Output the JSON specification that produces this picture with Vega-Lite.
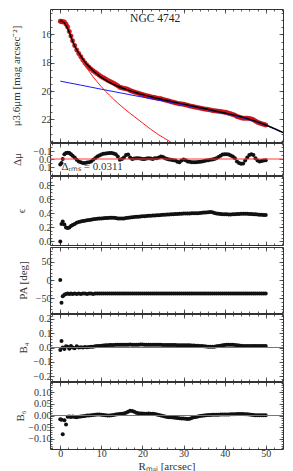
{
"$schema": "https://vega.github.io/schema/vega-lite/v6.json",
"padding": {"left": 9, "top": 8, "right": 0, "bottom": 0},
"spacing": -2,
"config": {
  "font": "Liberation Serif",
  "view": {"stroke": "#333", "strokeWidth": 1},
  "concat": {"spacing": -2},
  "axis": {"domain": false, "grid": false, "labelFont": "Liberation Serif", "titleFont": "Liberation Serif", "labelFontSize": 10, "titleFontSize": 11, "titleFontWeight": "normal", "labelColor": "#333", "titleColor": "#333", "tickColor": "#333", "tickWidth": 0.8, "labelOverlap": false, "labelFlush": false, "labelPadding": 3}
},
"datasets": {
"prof": [
{"R":0,"mu":15.06,"dmu":0.07,"eps":0,"pa":0,"b4":-0.018,"b6":-0.016},
{"R":0.3,"mu":15.09,"dmu":0.05,"eps":0.25,"pa":-62,"b4":0.045,"b6":-0.018},
{"R":0.6,"mu":15.1,"dmu":0,"eps":0.285,"pa":-44,"b4":0,"b6":-0.08},
{"R":1.0,"mu":15.12,"dmu":-0.06,"eps":0.24,"pa":-40,"b4":-0.01,"b6":-0.02},
{"R":1.4,"mu":15.27,"dmu":-0.075,"eps":0.2,"pa":-38,"b4":0.008,"b6":-0.038},
{"R":1.8,"mu":15.47,"dmu":-0.078,"eps":0.19,"pa":-37,"b4":0.005,"b6":-0.005},
{"R":2.2,"mu":15.79,"dmu":-0.075,"eps":0.2,"pa":-38,"b4":-0.008,"b6":-0.004},
{"R":2.6,"mu":16.11,"dmu":-0.06,"eps":0.22,"pa":-37,"b4":0.01,"b6":-0.006},
{"R":3.0,"mu":16.44,"dmu":-0.04,"eps":0.235,"pa":-38,"b4":0,"b6":-0.004},
{"R":3.5,"mu":16.78,"dmu":-0.02,"eps":0.25,"pa":-37,"b4":-0.005,"b6":-0.006},
{"R":4.0,"mu":17.09,"dmu":0.01,"eps":0.265,"pa":-38,"b4":0.008,"b6":-0.007},
{"R":4.5,"mu":17.35,"dmu":0.03,"eps":0.275,"pa":-37,"b4":0,"b6":-0.005},
{"R":5.0,"mu":17.57,"dmu":0.04,"eps":0.285,"pa":-38,"b4":0.002,"b6":-0.004},
{"R":5.5,"mu":17.8,"dmu":0.05,"eps":0.29,"pa":-37,"b4":0,"b6":-0.003},
{"R":6.0,"mu":18.0,"dmu":0.05,"eps":0.295,"pa":-37,"b4":0.003,"b6":-0.002},
{"R":6.5,"mu":18.17,"dmu":0.045,"eps":0.3,"pa":-38,"b4":0.002,"b6":0},
{"R":7.0,"mu":18.31,"dmu":0.04,"eps":0.305,"pa":-37,"b4":0.004,"b6":0},
{"R":7.5,"mu":18.45,"dmu":0.03,"eps":0.31,"pa":-37,"b4":0.005,"b6":0.001},
{"R":8.0,"mu":18.57,"dmu":0.01,"eps":0.315,"pa":-38,"b4":0.006,"b6":0.002},
{"R":8.5,"mu":18.67,"dmu":-0.01,"eps":0.32,"pa":-37,"b4":0.008,"b6":0.003},
{"R":9.0,"mu":18.77,"dmu":-0.03,"eps":0.322,"pa":-37,"b4":0.01,"b6":0.004},
{"R":9.5,"mu":18.88,"dmu":-0.045,"eps":0.325,"pa":-37,"b4":0.01,"b6":0.004},
{"R":10,"mu":18.98,"dmu":-0.055,"eps":0.328,"pa":-37,"b4":0.012,"b6":0.003},
{"R":10.5,"mu":19.06,"dmu":-0.065,"eps":0.33,"pa":-37,"b4":0.014,"b6":0.002},
{"R":11,"mu":19.14,"dmu":-0.07,"eps":0.333,"pa":-37,"b4":0.015,"b6":0.001},
{"R":11.5,"mu":19.23,"dmu":-0.072,"eps":0.335,"pa":-37,"b4":0.016,"b6":0},
{"R":12,"mu":19.31,"dmu":-0.075,"eps":0.337,"pa":-37,"b4":0.017,"b6":0},
{"R":12.5,"mu":19.38,"dmu":-0.075,"eps":0.338,"pa":-37,"b4":0.018,"b6":0.001},
{"R":13,"mu":19.45,"dmu":-0.07,"eps":0.336,"pa":-37,"b4":0.018,"b6":0.002},
{"R":13.5,"mu":19.53,"dmu":-0.06,"eps":0.332,"pa":-37,"b4":0.019,"b6":0.004},
{"R":14,"mu":19.63,"dmu":-0.03,"eps":0.328,"pa":-37,"b4":0.019,"b6":0.005},
{"R":14.5,"mu":19.73,"dmu":0.01,"eps":0.325,"pa":-37,"b4":0.02,"b6":0.006},
{"R":15,"mu":19.77,"dmu":0,"eps":0.325,"pa":-37,"b4":0.02,"b6":0.007},
{"R":15.5,"mu":19.81,"dmu":-0.02,"eps":0.328,"pa":-37,"b4":0.02,"b6":0.009},
{"R":16,"mu":19.83,"dmu":-0.05,"eps":0.332,"pa":-37,"b4":0.02,"b6":0.012},
{"R":16.5,"mu":19.88,"dmu":-0.055,"eps":0.336,"pa":-37,"b4":0.02,"b6":0.016},
{"R":17,"mu":19.96,"dmu":-0.02,"eps":0.34,"pa":-37,"b4":0.021,"b6":0.02},
{"R":17.5,"mu":20.02,"dmu":0,"eps":0.343,"pa":-37,"b4":0.02,"b6":0.019},
{"R":18,"mu":20.07,"dmu":-0.005,"eps":0.347,"pa":-37,"b4":0.02,"b6":0.016},
{"R":18.5,"mu":20.11,"dmu":-0.01,"eps":0.35,"pa":-37,"b4":0.02,"b6":0.012},
{"R":19,"mu":20.15,"dmu":-0.01,"eps":0.353,"pa":-37,"b4":0.02,"b6":0.01},
{"R":19.5,"mu":20.2,"dmu":-0.005,"eps":0.356,"pa":-37,"b4":0.021,"b6":0.009},
{"R":20,"mu":20.25,"dmu":0,"eps":0.358,"pa":-37,"b4":0.021,"b6":0.009},
{"R":20.5,"mu":20.29,"dmu":0,"eps":0.36,"pa":-37,"b4":0.02,"b6":0.008},
{"R":21,"mu":20.33,"dmu":-0.005,"eps":0.362,"pa":-37,"b4":0.02,"b6":0.008},
{"R":21.5,"mu":20.36,"dmu":-0.01,"eps":0.364,"pa":-37,"b4":0.02,"b6":0.009},
{"R":22,"mu":20.4,"dmu":-0.005,"eps":0.366,"pa":-37,"b4":0.02,"b6":0.008},
{"R":22.5,"mu":20.44,"dmu":0,"eps":0.368,"pa":-37,"b4":0.02,"b6":0.007},
{"R":23,"mu":20.46,"dmu":-0.01,"eps":0.37,"pa":-37,"b4":0.02,"b6":0.006},
{"R":23.5,"mu":20.5,"dmu":-0.01,"eps":0.372,"pa":-37,"b4":0.019,"b6":0.004},
{"R":24,"mu":20.52,"dmu":-0.02,"eps":0.374,"pa":-37,"b4":0.019,"b6":0.002},
{"R":24.5,"mu":20.54,"dmu":-0.03,"eps":0.376,"pa":-37,"b4":0.019,"b6":0},
{"R":25,"mu":20.59,"dmu":-0.025,"eps":0.378,"pa":-37,"b4":0.018,"b6":-0.002},
{"R":25.5,"mu":20.63,"dmu":-0.01,"eps":0.38,"pa":-37,"b4":0.018,"b6":-0.004},
{"R":26,"mu":20.67,"dmu":0,"eps":0.382,"pa":-37,"b4":0.018,"b6":-0.006},
{"R":26.5,"mu":20.71,"dmu":0.005,"eps":0.384,"pa":-37,"b4":0.018,"b6":-0.007},
{"R":27,"mu":20.75,"dmu":0.01,"eps":0.386,"pa":-37,"b4":0.017,"b6":-0.008},
{"R":27.5,"mu":20.79,"dmu":0.015,"eps":0.388,"pa":-37,"b4":0.017,"b6":-0.009},
{"R":28,"mu":20.82,"dmu":0.02,"eps":0.39,"pa":-37,"b4":0.017,"b6":-0.01},
{"R":28.5,"mu":20.87,"dmu":0.035,"eps":0.392,"pa":-37,"b4":0.016,"b6":-0.011},
{"R":29,"mu":20.9,"dmu":0.04,"eps":0.394,"pa":-37,"b4":0.016,"b6":-0.012},
{"R":29.5,"mu":20.91,"dmu":0.02,"eps":0.395,"pa":-37,"b4":0.016,"b6":-0.013},
{"R":30,"mu":20.93,"dmu":0.005,"eps":0.396,"pa":-37,"b4":0.015,"b6":-0.013},
{"R":30.5,"mu":20.97,"dmu":0.015,"eps":0.397,"pa":-37,"b4":0.015,"b6":-0.014},
{"R":31,"mu":21.01,"dmu":0.03,"eps":0.398,"pa":-37,"b4":0.015,"b6":-0.015},
{"R":31.5,"mu":21.05,"dmu":0.035,"eps":0.399,"pa":-37,"b4":0.015,"b6":-0.014},
{"R":32,"mu":21.08,"dmu":0.04,"eps":0.4,"pa":-37,"b4":0.014,"b6":-0.011},
{"R":32.5,"mu":21.11,"dmu":0.04,"eps":0.4,"pa":-37,"b4":0.014,"b6":-0.008},
{"R":33,"mu":21.14,"dmu":0.04,"eps":0.401,"pa":-37,"b4":0.013,"b6":-0.006},
{"R":33.5,"mu":21.17,"dmu":0.038,"eps":0.402,"pa":-37,"b4":0.012,"b6":-0.004},
{"R":34,"mu":21.2,"dmu":0.035,"eps":0.404,"pa":-37,"b4":0.011,"b6":-0.002},
{"R":34.5,"mu":21.23,"dmu":0.03,"eps":0.407,"pa":-37,"b4":0.01,"b6":-0.001},
{"R":35,"mu":21.26,"dmu":0.025,"eps":0.41,"pa":-37,"b4":0.009,"b6":0},
{"R":35.5,"mu":21.28,"dmu":0.018,"eps":0.413,"pa":-37,"b4":0.007,"b6":0.001},
{"R":36,"mu":21.31,"dmu":0.015,"eps":0.416,"pa":-37,"b4":0.006,"b6":0.002},
{"R":36.5,"mu":21.33,"dmu":0.01,"eps":0.418,"pa":-37,"b4":0.005,"b6":0.002},
{"R":37,"mu":21.37,"dmu":0.005,"eps":0.415,"pa":-37,"b4":0.005,"b6":0.003},
{"R":37.5,"mu":21.39,"dmu":0,"eps":0.405,"pa":-37,"b4":0.006,"b6":0.003},
{"R":38,"mu":21.41,"dmu":-0.01,"eps":0.398,"pa":-37,"b4":0.008,"b6":0.003},
{"R":38.5,"mu":21.43,"dmu":-0.025,"eps":0.394,"pa":-37,"b4":0.01,"b6":0.003},
{"R":39,"mu":21.45,"dmu":-0.04,"eps":0.39,"pa":-37,"b4":0.013,"b6":0.004},
{"R":39.5,"mu":21.47,"dmu":-0.055,"eps":0.388,"pa":-37,"b4":0.016,"b6":0.004},
{"R":40,"mu":21.49,"dmu":-0.06,"eps":0.386,"pa":-37,"b4":0.018,"b6":0.004},
{"R":40.5,"mu":21.52,"dmu":-0.06,"eps":0.385,"pa":-37,"b4":0.019,"b6":0.004},
{"R":41,"mu":21.57,"dmu":-0.055,"eps":0.384,"pa":-37,"b4":0.02,"b6":0.004},
{"R":41.5,"mu":21.61,"dmu":-0.045,"eps":0.384,"pa":-37,"b4":0.02,"b6":0.005},
{"R":42,"mu":21.66,"dmu":-0.03,"eps":0.385,"pa":-37,"b4":0.019,"b6":0.005},
{"R":42.5,"mu":21.71,"dmu":-0.01,"eps":0.387,"pa":-37,"b4":0.018,"b6":0.005},
{"R":43,"mu":21.79,"dmu":0.03,"eps":0.389,"pa":-37,"b4":0.016,"b6":0.006},
{"R":43.5,"mu":21.84,"dmu":0.05,"eps":0.391,"pa":-37,"b4":0.014,"b6":0.006},
{"R":44,"mu":21.89,"dmu":0.06,"eps":0.393,"pa":-37,"b4":0.012,"b6":0.006},
{"R":44.5,"mu":21.92,"dmu":0.055,"eps":0.394,"pa":-37,"b4":0.011,"b6":0.006},
{"R":45,"mu":21.92,"dmu":0.02,"eps":0.395,"pa":-37,"b4":0.01,"b6":0.005},
{"R":45.5,"mu":21.92,"dmu":-0.02,"eps":0.394,"pa":-37,"b4":0.01,"b6":0.005},
{"R":46,"mu":21.94,"dmu":-0.05,"eps":0.392,"pa":-37,"b4":0.01,"b6":0.004},
{"R":46.5,"mu":21.97,"dmu":-0.06,"eps":0.39,"pa":-37,"b4":0.01,"b6":0.003},
{"R":47,"mu":22.03,"dmu":-0.05,"eps":0.388,"pa":-37,"b4":0.01,"b6":0.002},
{"R":47.5,"mu":22.12,"dmu":-0.01,"eps":0.386,"pa":-37,"b4":0.01,"b6":0.001},
{"R":48,"mu":22.2,"dmu":0.02,"eps":0.383,"pa":-37,"b4":0.01,"b6":0.001},
{"R":48.5,"mu":22.26,"dmu":0.03,"eps":0.38,"pa":-37,"b4":0.01,"b6":0.001},
{"R":49,"mu":22.31,"dmu":0.025,"eps":0.378,"pa":-37,"b4":0.01,"b6":0.001},
{"R":49.5,"mu":22.35,"dmu":0.02,"eps":0.376,"pa":-37,"b4":0.01,"b6":0.001},
{"R":50,"mu":22.4,"dmu":0.015,"eps":0.375,"pa":-37,"b4":0.01,"b6":0.001}
],
"total": [{"R":0,"m":15.02},{"R":1,"m":15.18},{"R":2,"m":15.71},{"R":3,"m":16.48},{"R":4,"m":17.08},{"R":5,"m":17.53},{"R":6,"m":17.95},{"R":7,"m":18.27},{"R":8,"m":18.56},{"R":9,"m":18.8},{"R":10,"m":19.03},{"R":11,"m":19.21},{"R":12,"m":19.38},{"R":14,"m":19.66},{"R":16,"m":19.88},{"R":18,"m":20.07},{"R":20,"m":20.25},{"R":22,"m":20.4},{"R":24,"m":20.54},{"R":26,"m":20.67},{"R":28,"m":20.8},{"R":30,"m":20.92},{"R":35,"m":21.23},{"R":40,"m":21.55},{"R":45,"m":21.9},{"R":50,"m":22.4},{"R":54.5,"m":22.97}],
"bulge": [{"R":0,"m":15.04},{"R":1,"m":15.2},{"R":2,"m":15.75},{"R":3,"m":16.55},{"R":4,"m":17.2},{"R":5,"m":17.7},{"R":6,"m":18.2},{"R":7,"m":18.6},{"R":8,"m":19.0},{"R":9,"m":19.35},{"R":10,"m":19.7},{"R":11,"m":20.0},{"R":12,"m":20.3},{"R":14,"m":20.85},{"R":16,"m":21.35},{"R":18,"m":21.8},{"R":20,"m":22.25},{"R":22,"m":22.7},{"R":24,"m":23.1},{"R":26,"m":23.45},{"R":28,"m":23.8}],
"disk": [{"R":0,"m":19.3},{"R":5,"m":19.58},{"R":10,"m":19.87},{"R":15,"m":20.15},{"R":20,"m":20.43},{"R":25,"m":20.7},{"R":30,"m":20.98},{"R":35,"m":21.27},{"R":40,"m":21.58},{"R":45,"m":21.95},{"R":50,"m":22.42},{"R":54.5,"m":22.98}]
},
"vconcat": [
{
 "width": 233, "height": 133, "data": {"name": "prof"},
 "layer": [
  {"mark": {"type": "point", "opacity": 0}, "encoding": {
    "x": {"field": "R", "type": "quantitative", "scale": {"domain": [-2.5, 54.2], "nice": false, "zero": false}, "axis": {"orient": "bottom", "values": [0,10,20,30,40,50], "tickSize": -4, "labels": false, "title": null}},
    "y": {"field": "mu", "type": "quantitative", "scale": {"domain": [14.2, 23.6], "reverse": true, "nice": false, "zero": false}, "axis": {"orient": "left", "values": [16,18,20,22], "tickSize": -4, "title": "μ3.6μm [mag arcsec⁻²]", "titlePadding": 20}}}},
  {"mark": {"type": "point", "opacity": 0}, "encoding": {
    "x": {"field": "R", "type": "quantitative", "axis": {"orient": "top", "values": [0,10,20,30,40,50], "tickSize": -4, "labels": false, "title": null}},
    "y": {"field": "mu", "type": "quantitative", "axis": {"orient": "right", "values": [16,18,20,22], "tickSize": -4, "labels": false, "title": null}}}},
  {"mark": {"type": "point", "opacity": 0}, "encoding": {
    "x": {"field": "R", "type": "quantitative", "axis": {"orient": "bottom", "values": [-2,0,2,4,6,8,10,12,14,16,18,20,22,24,26,28,30,32,34,36,38,40,42,44,46,48,50,52,54], "tickSize": -2, "labels": false, "title": null}},
    "y": {"field": "mu", "type": "quantitative", "axis": {"orient": "left", "values": [14.5,15,15.5,16,16.5,17,17.5,18,18.5,19,19.5,20,20.5,21,21.5,22,22.5,23,23.5], "tickSize": -2, "labels": false, "title": null}}}},
  {"mark": {"type": "point", "opacity": 0}, "encoding": {
    "x": {"field": "R", "type": "quantitative", "axis": {"orient": "top", "values": [-2,0,2,4,6,8,10,12,14,16,18,20,22,24,26,28,30,32,34,36,38,40,42,44,46,48,50,52,54], "tickSize": -2, "labels": false, "title": null}},
    "y": {"field": "mu", "type": "quantitative", "axis": {"orient": "right", "values": [14.5,15,15.5,16,16.5,17,17.5,18,18.5,19,19.5,20,20.5,21,21.5,22,22.5,23,23.5], "tickSize": -2, "labels": false, "title": null}}}},
  {"mark": {"type": "point", "filled": true, "size": 20, "color": "#e8141c", "stroke": "#8a0000", "strokeWidth": 0.4, "opacity": 1}, "encoding": {
    "x": {"field": "R", "type": "quantitative", "axis": null},
    "y": {"field": "mu", "type": "quantitative", "axis": null}}},
  {"data": {"name": "bulge"}, "mark": {"type": "line", "color": "#ff1a1a", "strokeWidth": 1, "clip": true, "interpolate": "monotone"}, "encoding": {
    "x": {"field": "R", "type": "quantitative", "axis": null},
    "y": {"field": "m", "type": "quantitative", "axis": null}}},
  {"data": {"name": "disk"}, "mark": {"type": "line", "color": "#1a1aff", "strokeWidth": 1, "clip": true, "interpolate": "monotone"}, "encoding": {
    "x": {"field": "R", "type": "quantitative", "axis": null},
    "y": {"field": "m", "type": "quantitative", "axis": null}}},
  {"data": {"name": "total"}, "mark": {"type": "line", "color": "#000000", "strokeWidth": 1.4, "clip": true, "interpolate": "monotone"}, "encoding": {
    "x": {"field": "R", "type": "quantitative", "axis": null},
    "y": {"field": "m", "type": "quantitative", "axis": null}}},
  {"data": {"values": [{"R": 23.1, "v": 14.92, "t": "NGC 4742"}]}, "mark": {"type": "text", "align": "center", "baseline": "middle", "fontSize": 11.5, "font": "Liberation Serif", "color": "#222"}, "encoding": {
    "x": {"field": "R", "type": "quantitative", "axis": null},
    "y": {"field": "v", "type": "quantitative", "axis": null},
    "text": {"field": "t"}}}
 ],
 "resolve": {"axis": {"x": "independent", "y": "independent"}}
},
{
 "width": 233, "height": 32, "data": {"name": "prof"},
 "layer": [
  {"mark": {"type": "point", "opacity": 0}, "encoding": {
    "x": {"field": "R", "type": "quantitative", "scale": {"domain": [-2.5, 54.2], "nice": false, "zero": false}, "axis": {"orient": "bottom", "values": [0,10,20,30,40,50], "tickSize": -4, "labels": false, "title": null}},
    "y": {"field": "dmu", "type": "quantitative", "scale": {"domain": [-0.2, 0.2], "reverse": true, "nice": false, "zero": false}, "axis": {"orient": "left", "values": [-0.1,0,0.1], "format": ".1f", "tickSize": -4, "title": "Δμ", "titlePadding": 10}}}},
  {"mark": {"type": "point", "opacity": 0}, "encoding": {
    "x": {"field": "R", "type": "quantitative", "axis": {"orient": "top", "values": [0,10,20,30,40,50], "tickSize": -4, "labels": false, "title": null}},
    "y": {"field": "dmu", "type": "quantitative", "axis": {"orient": "right", "values": [-0.1,0,0.1], "tickSize": -4, "labels": false, "title": null}}}},
  {"mark": {"type": "point", "opacity": 0}, "encoding": {
    "x": {"field": "R", "type": "quantitative", "axis": {"orient": "bottom", "values": [-2,0,2,4,6,8,10,12,14,16,18,20,22,24,26,28,30,32,34,36,38,40,42,44,46,48,50,52,54], "tickSize": -2, "labels": false, "title": null}},
    "y": {"field": "dmu", "type": "quantitative", "axis": {"orient": "left", "values": [-0.15,-0.05,0.05,0.15], "tickSize": -2, "labels": false, "title": null}}}},
  {"mark": {"type": "point", "opacity": 0}, "encoding": {
    "x": {"field": "R", "type": "quantitative", "axis": {"orient": "top", "values": [-2,0,2,4,6,8,10,12,14,16,18,20,22,24,26,28,30,32,34,36,38,40,42,44,46,48,50,52,54], "tickSize": -2, "labels": false, "title": null}},
    "y": {"field": "dmu", "type": "quantitative", "axis": {"orient": "right", "values": [-0.15,-0.05,0.05,0.15], "tickSize": -2, "labels": false, "title": null}}}},
  {"mark": {"type": "point", "filled": true, "size": 16, "color": "#111", "opacity": 1}, "encoding": {
    "x": {"field": "R", "type": "quantitative", "axis": null},
    "y": {"field": "dmu", "type": "quantitative", "axis": null}}},
  {"data": {"values": [{"z": 0}]}, "mark": {"type": "rule", "color": "#ff3b3b", "strokeWidth": 1}, "encoding": {
    "y": {"field": "z", "type": "quantitative", "axis": null}}},
  {"data": {"values": [{"R": 0.3, "v": 0.14, "t": "Δᵣₘₛ = 0.0311"}]}, "mark": {"type": "text", "align": "left", "baseline": "alphabetic", "fontSize": 11, "font": "Liberation Serif", "color": "#333"}, "encoding": {
    "x": {"field": "R", "type": "quantitative", "axis": null},
    "y": {"field": "v", "type": "quantitative", "axis": null},
    "text": {"field": "t"}}}
 ],
 "resolve": {"axis": {"x": "independent", "y": "independent"}}
},
{
 "width": 233, "height": 69, "data": {"name": "prof"},
 "layer": [
  {"mark": {"type": "point", "opacity": 0}, "encoding": {
    "x": {"field": "R", "type": "quantitative", "scale": {"domain": [-2.5, 54.2], "nice": false, "zero": false}, "axis": {"orient": "bottom", "values": [0,10,20,30,40,50], "tickSize": -4, "labels": false, "title": null}},
    "y": {"field": "eps", "type": "quantitative", "scale": {"domain": [-0.05, 0.93], "nice": false, "zero": false}, "axis": {"orient": "left", "values": [0,0.2,0.4,0.6,0.8], "format": ".1f", "tickSize": -4, "title": "ϵ", "titlePadding": 12}}}},
  {"mark": {"type": "point", "opacity": 0}, "encoding": {
    "x": {"field": "R", "type": "quantitative", "axis": {"orient": "top", "values": [0,10,20,30,40,50], "tickSize": -4, "labels": false, "title": null}},
    "y": {"field": "eps", "type": "quantitative", "axis": {"orient": "right", "values": [0,0.2,0.4,0.6,0.8], "tickSize": -4, "labels": false, "title": null}}}},
  {"mark": {"type": "point", "opacity": 0}, "encoding": {
    "x": {"field": "R", "type": "quantitative", "axis": {"orient": "bottom", "values": [-2,0,2,4,6,8,10,12,14,16,18,20,22,24,26,28,30,32,34,36,38,40,42,44,46,48,50,52,54], "tickSize": -2, "labels": false, "title": null}},
    "y": {"field": "eps", "type": "quantitative", "axis": {"orient": "left", "values": [0,0.05,0.1,0.15,0.2,0.25,0.3,0.35,0.4,0.45,0.5,0.55,0.6,0.65,0.7,0.75,0.8,0.85,0.9], "tickSize": -2, "labels": false, "title": null}}}},
  {"mark": {"type": "point", "opacity": 0}, "encoding": {
    "x": {"field": "R", "type": "quantitative", "axis": {"orient": "top", "values": [-2,0,2,4,6,8,10,12,14,16,18,20,22,24,26,28,30,32,34,36,38,40,42,44,46,48,50,52,54], "tickSize": -2, "labels": false, "title": null}},
    "y": {"field": "eps", "type": "quantitative", "axis": {"orient": "right", "values": [0,0.05,0.1,0.15,0.2,0.25,0.3,0.35,0.4,0.45,0.5,0.55,0.6,0.65,0.7,0.75,0.8,0.85,0.9], "tickSize": -2, "labels": false, "title": null}}}},
  {"mark": {"type": "point", "filled": true, "size": 16, "color": "#111", "opacity": 1}, "encoding": {
    "x": {"field": "R", "type": "quantitative", "axis": null},
    "y": {"field": "eps", "type": "quantitative", "axis": null}}}
 ],
 "resolve": {"axis": {"x": "independent", "y": "independent"}}
},
{
 "width": 233, "height": 66, "data": {"name": "prof"},
 "layer": [
  {"mark": {"type": "point", "opacity": 0}, "encoding": {
    "x": {"field": "R", "type": "quantitative", "scale": {"domain": [-2.5, 54.2], "nice": false, "zero": false}, "axis": {"orient": "bottom", "values": [0,10,20,30,40,50], "tickSize": -4, "labels": false, "title": null}},
    "y": {"field": "pa", "type": "quantitative", "scale": {"domain": [-90, 90], "nice": false, "zero": false}, "axis": {"orient": "left", "values": [-50,0,50], "tickSize": -4, "title": "PA [deg]", "titlePadding": 7}}}},
  {"mark": {"type": "point", "opacity": 0}, "encoding": {
    "x": {"field": "R", "type": "quantitative", "axis": {"orient": "top", "values": [0,10,20,30,40,50], "tickSize": -4, "labels": false, "title": null}},
    "y": {"field": "pa", "type": "quantitative", "axis": {"orient": "right", "values": [-50,0,50], "tickSize": -4, "labels": false, "title": null}}}},
  {"mark": {"type": "point", "opacity": 0}, "encoding": {
    "x": {"field": "R", "type": "quantitative", "axis": {"orient": "bottom", "values": [-2,0,2,4,6,8,10,12,14,16,18,20,22,24,26,28,30,32,34,36,38,40,42,44,46,48,50,52,54], "tickSize": -2, "labels": false, "title": null}},
    "y": {"field": "pa", "type": "quantitative", "axis": {"orient": "left", "values": [-80,-70,-60,-50,-40,-30,-20,-10,0,10,20,30,40,50,60,70,80], "tickSize": -2, "labels": false, "title": null}}}},
  {"mark": {"type": "point", "opacity": 0}, "encoding": {
    "x": {"field": "R", "type": "quantitative", "axis": {"orient": "top", "values": [-2,0,2,4,6,8,10,12,14,16,18,20,22,24,26,28,30,32,34,36,38,40,42,44,46,48,50,52,54], "tickSize": -2, "labels": false, "title": null}},
    "y": {"field": "pa", "type": "quantitative", "axis": {"orient": "right", "values": [-80,-70,-60,-50,-40,-30,-20,-10,0,10,20,30,40,50,60,70,80], "tickSize": -2, "labels": false, "title": null}}}},
  {"mark": {"type": "point", "filled": true, "size": 16, "color": "#111", "opacity": 1}, "encoding": {
    "x": {"field": "R", "type": "quantitative", "axis": null},
    "y": {"field": "pa", "type": "quantitative", "axis": null}}}
 ],
 "resolve": {"axis": {"x": "independent", "y": "independent"}}
},
{
 "width": 233, "height": 67, "data": {"name": "prof"},
 "layer": [
  {"mark": {"type": "point", "opacity": 0}, "encoding": {
    "x": {"field": "R", "type": "quantitative", "scale": {"domain": [-2.5, 54.2], "nice": false, "zero": false}, "axis": {"orient": "bottom", "values": [0,10,20,30,40,50], "tickSize": -4, "labels": false, "title": null}},
    "y": {"field": "b4", "type": "quantitative", "scale": {"domain": [-0.235, 0.235], "nice": false, "zero": false}, "axis": {"orient": "left", "values": [-0.2,-0.1,0,0.1,0.2], "format": ".1f", "tickSize": -4, "title": "B₄", "titlePadding": 4}}}},
  {"mark": {"type": "point", "opacity": 0}, "encoding": {
    "x": {"field": "R", "type": "quantitative", "axis": {"orient": "top", "values": [0,10,20,30,40,50], "tickSize": -4, "labels": false, "title": null}},
    "y": {"field": "b4", "type": "quantitative", "axis": {"orient": "right", "values": [-0.2,-0.1,0,0.1,0.2], "tickSize": -4, "labels": false, "title": null}}}},
  {"mark": {"type": "point", "opacity": 0}, "encoding": {
    "x": {"field": "R", "type": "quantitative", "axis": {"orient": "bottom", "values": [-2,0,2,4,6,8,10,12,14,16,18,20,22,24,26,28,30,32,34,36,38,40,42,44,46,48,50,52,54], "tickSize": -2, "labels": false, "title": null}},
    "y": {"field": "b4", "type": "quantitative", "axis": {"orient": "left", "values": [-0.22,-0.2,-0.18,-0.16,-0.14,-0.12,-0.1,-0.08,-0.06,-0.04,-0.02,0,0.02,0.04,0.06,0.08,0.1,0.12,0.14,0.16,0.18,0.2,0.22], "tickSize": -2, "labels": false, "title": null}}}},
  {"mark": {"type": "point", "opacity": 0}, "encoding": {
    "x": {"field": "R", "type": "quantitative", "axis": {"orient": "top", "values": [-2,0,2,4,6,8,10,12,14,16,18,20,22,24,26,28,30,32,34,36,38,40,42,44,46,48,50,52,54], "tickSize": -2, "labels": false, "title": null}},
    "y": {"field": "b4", "type": "quantitative", "axis": {"orient": "right", "values": [-0.22,-0.2,-0.18,-0.16,-0.14,-0.12,-0.1,-0.08,-0.06,-0.04,-0.02,0,0.02,0.04,0.06,0.08,0.1,0.12,0.14,0.16,0.18,0.2,0.22], "tickSize": -2, "labels": false, "title": null}}}},
  {"mark": {"type": "point", "filled": true, "size": 16, "color": "#111", "opacity": 1}, "encoding": {
    "x": {"field": "R", "type": "quantitative", "axis": null},
    "y": {"field": "b4", "type": "quantitative", "axis": null}}},
  {"data": {"values": [{"z": 0}]}, "mark": {"type": "rule", "color": "#ff3b3b", "strokeWidth": 1}, "encoding": {
    "y": {"field": "z", "type": "quantitative", "axis": null}}}
 ],
 "resolve": {"axis": {"x": "independent", "y": "independent"}}
},
{
 "width": 233, "height": 67, "data": {"name": "prof"},
 "layer": [
  {"mark": {"type": "point", "opacity": 0}, "encoding": {
    "x": {"field": "R", "type": "quantitative", "scale": {"domain": [-2.5, 54.2], "nice": false, "zero": false}, "axis": {"orient": "bottom", "values": [0,10,20,30,40,50], "tickSize": -4, "labelPadding": 3, "title": "Rₘₐⱼ [arcsec]", "titlePadding": 2}},
    "y": {"field": "b6", "type": "quantitative", "scale": {"domain": [-0.143, 0.143], "nice": false, "zero": false}, "axis": {"orient": "left", "values": [-0.1,-0.05,0,0.05,0.1], "format": ".2f", "tickSize": -4, "title": "B₆", "titlePadding": 2}}}},
  {"mark": {"type": "point", "opacity": 0}, "encoding": {
    "x": {"field": "R", "type": "quantitative", "axis": {"orient": "top", "values": [0,10,20,30,40,50], "tickSize": -4, "labels": false, "title": null}},
    "y": {"field": "b6", "type": "quantitative", "axis": {"orient": "right", "values": [-0.1,-0.05,0,0.05,0.1], "tickSize": -4, "labels": false, "title": null}}}},
  {"mark": {"type": "point", "opacity": 0}, "encoding": {
    "x": {"field": "R", "type": "quantitative", "axis": {"orient": "bottom", "values": [-2,0,2,4,6,8,10,12,14,16,18,20,22,24,26,28,30,32,34,36,38,40,42,44,46,48,50,52,54], "tickSize": -2, "labels": false, "title": null}},
    "y": {"field": "b6", "type": "quantitative", "axis": {"orient": "left", "values": [-0.14,-0.13,-0.12,-0.11,-0.1,-0.09,-0.08,-0.07,-0.06,-0.05,-0.04,-0.03,-0.02,-0.01,0,0.01,0.02,0.03,0.04,0.05,0.06,0.07,0.08,0.09,0.1,0.11,0.12,0.13,0.14], "tickSize": -2, "labels": false, "title": null}}}},
  {"mark": {"type": "point", "opacity": 0}, "encoding": {
    "x": {"field": "R", "type": "quantitative", "axis": {"orient": "top", "values": [-2,0,2,4,6,8,10,12,14,16,18,20,22,24,26,28,30,32,34,36,38,40,42,44,46,48,50,52,54], "tickSize": -2, "labels": false, "title": null}},
    "y": {"field": "b6", "type": "quantitative", "axis": {"orient": "right", "values": [-0.14,-0.13,-0.12,-0.11,-0.1,-0.09,-0.08,-0.07,-0.06,-0.05,-0.04,-0.03,-0.02,-0.01,0,0.01,0.02,0.03,0.04,0.05,0.06,0.07,0.08,0.09,0.1,0.11,0.12,0.13,0.14], "tickSize": -2, "labels": false, "title": null}}}},
  {"mark": {"type": "point", "filled": true, "size": 16, "color": "#111", "opacity": 1}, "encoding": {
    "x": {"field": "R", "type": "quantitative", "axis": null},
    "y": {"field": "b6", "type": "quantitative", "axis": null}}},
  {"data": {"values": [{"z": 0}]}, "mark": {"type": "rule", "color": "#ff3b3b", "strokeWidth": 1}, "encoding": {
    "y": {"field": "z", "type": "quantitative", "axis": null}}}
 ]
 ,
 "resolve": {"axis": {"x": "independent", "y": "independent"}}
}
]
}
